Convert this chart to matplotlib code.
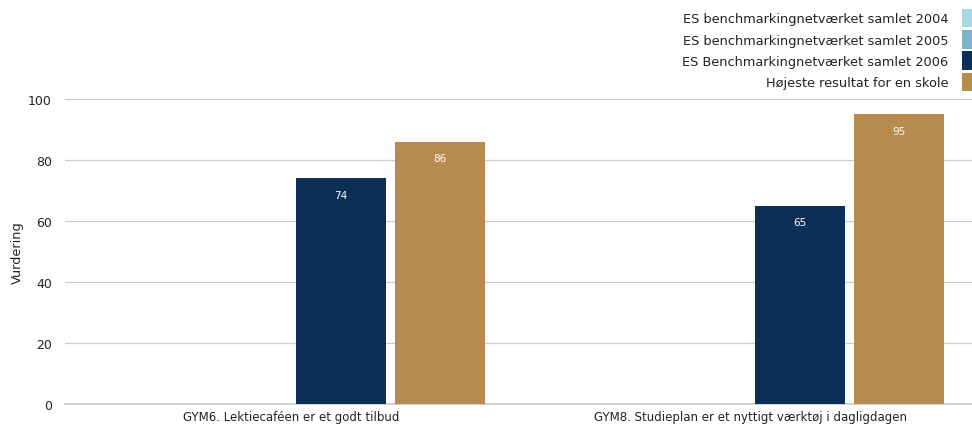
import numpy as np
import matplotlib.pyplot as plt

## data
categories = ["GYM6. Lektiecaféen er et godt tilbud",
              "GYM8. Studieplan er et nyttigt værktøj i dagligdagen"]
series_names = ["ES benchmarkingnetværket samlet 2004",
                "ES benchmarkingnetværket samlet 2005",
                "ES Benchmarkingnetværket samlet 2006",
                "Højeste resultat for en skole"]
vals_2004 = [np.nan, np.nan]
vals_2005 = [np.nan, np.nan]
vals_2006 = [74, 65]
vals_best = [86, 95]
yticks = [0, 20, 40, 60, 80, 100]

colors = ["#A8D8E2", "#7BB3C9", "#0B2F57", "#B78A4E"]
txt_col = "#222222"

plt.rcParams['font.family'] = ['DejaVu Sans']

fig = plt.figure(figsize=(9.72, 4.27), dpi=100)
# axes run a bit past the right edge of the figure, like the original
ax = fig.add_axes([65/972, 22/427, 915/972, 305/427])

x = np.arange(len(categories))
step = 0.2157
width = 0.196
all_vals = [vals_2004, vals_2005, vals_2006, vals_best]
for i, (vals, col, name) in enumerate(zip(all_vals, colors, series_names)):
    pos = x + (i - 1.5) * step
    bars = ax.bar(pos, vals, width, color=col, label=name, zorder=3)
    for b, v in zip(bars, vals):
        if not np.isnan(v):
            ax.annotate(f"{v:.0f}", (b.get_x() + b.get_width()/2, v),
                        xytext=(0, -12), textcoords="offset points",
                        ha="center", va="center", color="white", fontsize=7.5,
                        zorder=4)

ax.set_xlim(-0.4935, 1.5)
ax.set_ylim(0, 100)
ax.set_yticks(yticks)
ax.set_xticks(x)
ax.set_xticklabels(categories, fontsize=8.5)
ax.tick_params(axis='y', length=0, labelsize=9, pad=9.4, colors=txt_col)
ax.tick_params(axis='x', length=0, pad=4, colors=txt_col)
ax.yaxis.grid(True, color="#CCCCCC", linewidth=0.9, zorder=0)
ax.axhline(0, color="#CCCCCC", linewidth=1.2, zorder=2, clip_on=False)
for s in ax.spines.values():
    s.set_visible(False)
ax.set_ylabel("Vurdering", fontsize=9.3, labelpad=3, color=txt_col)

leg = fig.legend(loc="upper right", bbox_to_anchor=(1.0, 1 - 10/427),
                 markerfirst=False, frameon=False, fontsize=9.3,
                 handlelength=0.75, handleheight=1.8, handletextpad=1.1,
                 labelspacing=0.23, borderaxespad=0, borderpad=0)
for t in leg.get_texts():
    t.set_color(txt_col)

fig.savefig("out.png", dpi=100)
